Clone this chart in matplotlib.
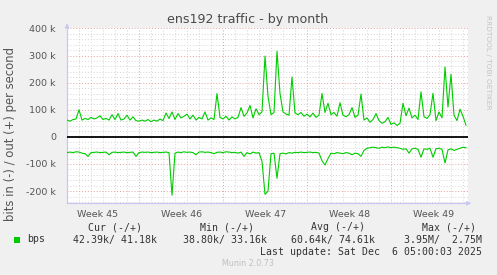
import matplotlib
matplotlib.use("Agg")
import matplotlib.pyplot as plt
from matplotlib.patches import Rectangle

# ---------------- data (values in k bits/s, one sample every 6 hours) ----------------
step_days = 0.25
out_k = [62, 58, 64, 66, 100, 62, 68, 64, 72, 66, 70, 78, 64, 68, 62, 82, 64, 86, 62, 66,
         80, 62, 74, 60, 58, 62, 58, 64, 56, 62, 58, 66, 60, 88, 68, 92, 64, 86, 70, 76,
         84, 66, 80, 62, 72, 66, 92, 62, 70, 64, 160, 72, 66, 76, 62, 74, 66, 72, 108, 76,
         88, 116, 70, 104, 82, 92, 298, 150, 82, 90, 316, 160, 92, 84, 80, 221, 88, 82, 90, 76,
         84, 74, 88, 72, 80, 160, 90, 124, 82, 90, 76, 126, 80, 74, 82, 108, 72, 80, 158, 62,
         70, 54, 64, 86, 60, 50, 56, 72, 46, 52, 42, 50, 124, 78, 106, 70, 80, 64, 166, 74,
         68, 82, 161, 60, 92, 70, 258, 110, 231, 80, 60, 102, 76, 43]
in_k = [-58, -56, -58, -55, -56, -60, -62, -72, -58, -57, -56, -58, -57, -56, -66, -57, -56, -58, -57, -56,
        -58, -57, -56, -72, -58, -56, -57, -56, -58, -57, -56, -58, -57, -56, -58, -215, -60, -56, -58, -55,
        -57, -56, -58, -66, -56, -55, -57, -56, -58, -62, -57, -56, -58, -55, -56, -58, -57, -60, -56, -72,
        -58, -63, -56, -60, -58, -90, -212, -200, -62, -60, -153, -62, -60, -63, -58, -60, -57, -58, -56, -58,
        -57, -56, -58, -57, -60, -88, -104, -80, -60, -62, -58, -60, -62, -58, -60, -66, -60, -62, -72, -50,
        -42, -40, -38, -40, -42, -38, -40, -37, -40, -38, -40, -42, -46, -44, -60, -44, -42, -46, -75, -44,
        -46, -42, -75, -44, -42, -46, -96, -48, -44, -50, -46, -42, -38, -40]
days = [i * step_days for i in range(len(out_k))]

week_labels = ["Week 45", "Week 46", "Week 47", "Week 48", "Week 49"]
week_pos = [2.58, 9.58, 16.58, 23.58, 30.58]
major_x = [6, 13, 20, 27]
ytick_vals = [-200, -100, 0, 100, 200, 300, 400]
ytick_labels = ["-200 k", "-100 k", "0", "100 k", "200 k", "300 k", "400 k"]

legend_headers = ["Cur (-/+)", "Min (-/+)", "Avg (-/+)", "Max (-/+)"]
legend_values = ["42.39k/ 41.18k", "38.80k/ 33.16k", "60.64k/ 74.61k", "3.95M/  2.75M"]
series_name = "bps"
last_update = "Last update: Sat Dec  6 05:00:03 2025"
footer = "Munin 2.0.73"
title = "ens192 traffic - by month"
ylabel = "bits in (-) / out (+) per second"
side_text = "RRDTOOL / TOBI OETIKER"

# ---------------- figure ----------------
W, H = 497, 275
fig = plt.figure(figsize=(W / 100, H / 100), dpi=100, facecolor="#F0F0F0")
L, R, T, B = 67, 468, 28.3, 203.3
ax = fig.add_axes([L / W, 1 - B / H, (R - L) / W, (B - T) / H])
ax.set_facecolor("white")

xmax = (R - L) / 12.0
ymin, ymax = -245, 400.5
ax.set_xlim(0, xmax)
ax.set_ylim(ymin, ymax)

minor_col = "#D4D4D4"
major_col = "#E6A0A0"
dot = (0, (1, 2))
# vertical grid
for d in range(1, int(xmax) + 1):
    if d in major_x:
        ax.axvline(d, color=major_col, lw=0.7, ls=dot, zorder=1)
    else:
        ax.axvline(d, color=minor_col, lw=0.7, ls=dot, zorder=1)
# horizontal grid
for v in range(-240, 401, 20):
    if v == 0:
        continue
    if v % 100 == 0:
        ax.axhline(v, color=major_col, lw=0.7, ls=dot, zorder=1)
    else:
        ax.axhline(v, color=minor_col, lw=0.7, ls=dot, zorder=1)

# series
green = "#00CC00"
ax.plot(days, out_k, color=green, lw=0.8, zorder=3)
ax.plot(days, in_k, color=green, lw=0.8, zorder=3)
ax.axhline(0, color="black", lw=1.3, zorder=4)

# axes styling
axis_col = "#C8C8F0"
for s in ["top", "right"]:
    ax.spines[s].set_visible(False)
for s in ["left", "bottom"]:
    ax.spines[s].set_color(axis_col)
    ax.spines[s].set_linewidth(0.9)

text_col = "#555555"
ax.set_yticks(ytick_vals)
ax.set_yticklabels(ytick_labels)
ax.set_xticks(week_pos)
ax.set_xticklabels(week_labels)
ax.tick_params(axis="both", length=0, labelsize=6.8, colors=text_col)
ax.tick_params(axis="y", pad=8)
ax.tick_params(axis="x", pad=5)

# axis arrows
ax.annotate("", xy=(0, 1.045), xytext=(0, 0.99), xycoords="axes fraction",
            arrowprops=dict(arrowstyle="-|>", color=axis_col, lw=0.9, mutation_scale=6),
            annotation_clip=False)
ax.annotate("", xy=(1.015, 0), xytext=(0.995, 0), xycoords="axes fraction",
            arrowprops=dict(arrowstyle="-|>", color=axis_col, lw=0.9, mutation_scale=6),
            annotation_clip=False)


def fx(x):
    return x / W


def fy(y):
    return 1 - y / H


fig.text(fx(248), fy(20), title, ha="center", va="center", fontsize=9.1, color="#4A4A4A")
fig.text(fx(11), fy(134), ylabel, ha="center", va="center", rotation=90, fontsize=8.4, color=text_col)
fig.text(fx(488), fy(15), side_text, ha="center", va="top", rotation=270, fontsize=5.3, color="#C4C4C4")

mono = dict(family="DejaVu Sans Mono", fontsize=7.1, color="#333333", va="center")
header_right = [142, 254, 365, 476]
value_right = [157, 267, 375, 482]
for hx, h in zip(header_right, legend_headers):
    fig.text(fx(hx), fy(227), h, ha="right", **mono)
for vx, v in zip(value_right, legend_values):
    fig.text(fx(vx), fy(239.5), v, ha="right", **mono)
fig.text(fx(27), fy(239.5), series_name, ha="left", **mono)
fig.patches.append(Rectangle((fx(14), fy(243)), 6 / W, 6 / H, transform=fig.transFigure,
                             facecolor=green, edgecolor="none"))
fig.text(fx(482), fy(252), last_update, ha="right", **mono)
fig.text(fx(248), fy(263.5), footer, ha="center", va="center", fontsize=5.8, color="#C0C0C0")

fig.savefig("out.png", dpi=100, facecolor=fig.get_facecolor())
